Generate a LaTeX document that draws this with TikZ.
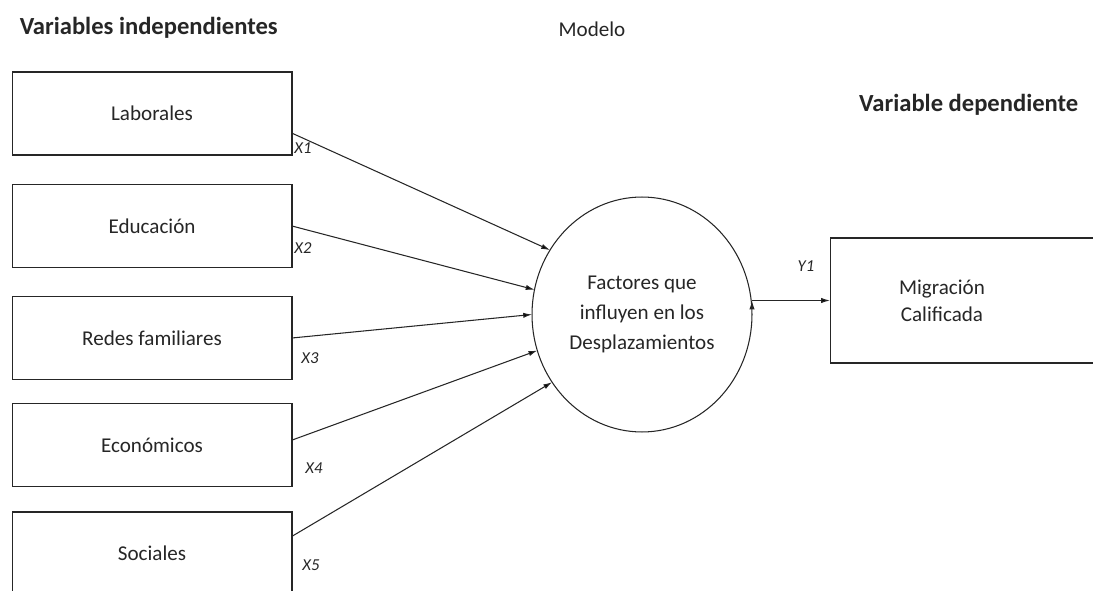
\documentclass[tikz,border=0pt]{standalone}
\usepackage{fontspec}
\setmainfont{Carlito}
\usetikzlibrary{arrows.meta,shapes.geometric}
\begin{document}
\begin{tikzpicture}[x=0.02cm,y=-0.02cm,semithick,align=center,>={Latex[length=5pt,width=3pt]},
    every node/.style={inner sep=1,outer sep=0,font=\fontsize{12}{17}\selectfont,text=black!85},
    box/.style={draw=black!85,minimum width=5.6cm,minimum height=1.66cm},
    var/.style={font=\fontsize{9.5}{11}\selectfont\itshape},
    head/.style={font=\fontsize{14}{17}\selectfont\bfseries}]
    \useasboundingbox (0,0) rectangle (1093,591);
	\node (t1) [head,anchor=west] at (18,28) {Variables independientes};
	\node (t2) at (592,29) {Modelo};
	\node (t3) [head,anchor=east] at (1080,105) {Variable dependiente};
	\node (1) [box] at (152,113.5) {Laborales};
	\node (2) [box] at (152,226) {Educación};
	\node (3) [box] at (152,338) {Redes familiares};
	\node (4) [box] at (152,445) {Económicos};
	\node (5) [box] at (152,553.5) {Sociales};
	\node (6) [draw=black!85,ellipse,minimum width=4.4cm,minimum height=4.7cm] at (642,314.5) {Factores que\\influyen en los\\Desplazamientos};
	\node (7) [box,minimum height=2.5cm] at (970,300.5) {};
	\node (8) [font=\fontsize{12}{15.5}\selectfont] at (942,301) {Migración\\Calificada};
	% etiquetas de las flechas
	\node (x1) [var] at (303,148) {X1};
	\node (x2) [var] at (303,248) {X2};
	\node (x3) [var] at (310,358) {X3};
	\node (x4) [var] at (314,468) {X4};
	\node (x5) [var] at (311,565) {X5};
	\node (y1) [var] at (806,266) {Y1};
    \path[->,draw=black!85]
        (1.-8) edge (6.145)
        (2.east) edge (6.167)
        (3.east) edge (6.180)
        (4.2) edge (6.199)
        (5.7) edge (6.217)
        (6.east |- 7.west) edge (7.west);
\end{tikzpicture}
\end{document}
